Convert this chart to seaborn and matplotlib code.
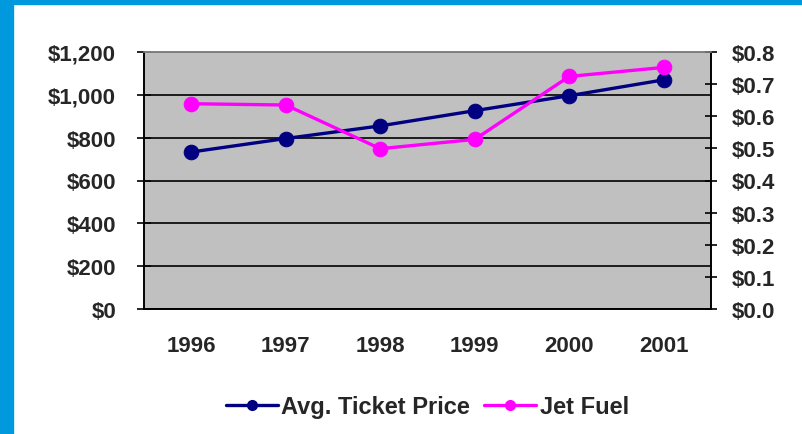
import matplotlib
matplotlib.use('Agg')
import matplotlib.pyplot as plt
import seaborn as sns
import pandas as pd
from matplotlib.lines import Line2D
from matplotlib.patches import Rectangle

# chart data
years = ['1996', '1997', '1998', '1999', '2000', '2001']
ticket_price = [733, 796, 855, 926, 996, 1070]
jet_fuel = [0.639, 0.635, 0.499, 0.528, 0.724, 0.752]
left_ticks = [0, 200, 400, 600, 800, 1000, 1200]
right_ticks = [0.0, 0.1, 0.2, 0.3, 0.4, 0.5, 0.6, 0.7, 0.8]

df = pd.DataFrame({'x': range(len(years)), 'ticket': ticket_price, 'fuel': jet_fuel})

sns.set_style('white')
plt.rcParams['font.family'] = ['Liberation Sans', 'DejaVu Sans']
plt.rcParams['font.weight'] = 'bold'

navy = '#000080'
magenta = '#FF00FF'
fs = 16

fig = plt.figure(figsize=(8.03, 4.35), dpi=100)
fig.patch.set_facecolor('white')
# blue frame on the left and top
fig.add_artist(Rectangle((0, 0), 13 / 803, 1, transform=fig.transFigure, color='#0099DD', zorder=0))
fig.add_artist(Rectangle((0, 1 - 5 / 435), 1, 5 / 435, transform=fig.transFigure, color='#0099DD', zorder=0))

ax = fig.add_axes([144 / 803, 1 - 310 / 435, (711 - 144) / 803, (310 - 53) / 435])
ax.set_facecolor('#C0C0C0')
ax2 = ax.twinx()

sns.lineplot(data=df, x='x', y='ticket', ax=ax, color=navy, lw=2.4, marker='o',
             markersize=10.5, markeredgecolor=navy, zorder=3)
sns.lineplot(data=df, x='x', y='fuel', ax=ax2, color=magenta, lw=2.4, marker='o',
             markersize=10.5, markeredgecolor=magenta, zorder=3)

ax.set_xlim(-0.5, len(years) - 0.5)
ax.set_ylim(0, 1200)
ax2.set_ylim(0, 0.8)
ax.set_yticks(left_ticks)
ax.set_yticklabels(['${:,}'.format(v) for v in left_ticks])
ax2.set_yticks(right_ticks)
ax2.set_yticklabels(['${:.1f}'.format(v) for v in right_ticks])

# category boundaries as ticks, labels at centers
ax.set_xticks([i - 0.5 for i in range(len(years) + 1)])
ax.set_xticklabels([])
ax.set_xticks(range(len(years)), minor=True)
ax.set_xticklabels(years, minor=True)
ax.tick_params(axis='x', which='minor', length=0, pad=19)
ax.tick_params(axis='x', which='major', direction='out', length=6, width=1.2, color='black')
ax.tick_params(axis='y', direction='inout', length=10, width=1.2, color='black', pad=15)
ax2.tick_params(axis='y', direction='inout', length=8, width=1.2, color='black', pad=11)

for a in (ax, ax2):
    a.set_xlabel('')
    a.set_ylabel('')
    for lab in a.get_yticklabels() + a.get_xticklabels(minor=True):
        lab.set_fontsize(fs)
        lab.set_fontweight('bold')

ax.grid(axis='y', color='black', lw=1.2)
ax.grid(axis='x', visible=False)
ax2.grid(False)
ax.set_axisbelow(True)

for a in (ax, ax2):
    a.spines['top'].set_color('#808080')
    a.spines['left'].set_color('black')
    a.spines['right'].set_color('black')
    a.spines['bottom'].set_color('black')
    for s in a.spines.values():
        s.set_linewidth(1.2)

handles = [
    Line2D([0], [0], color=navy, lw=2.4, marker='o', markersize=7),
    Line2D([0], [0], color=magenta, lw=2.4, marker='o', markersize=7),
]
fig.legend(handles, ['Avg. Ticket Price', 'Jet Fuel'], loc='center',
           bbox_to_anchor=((144 + 711) / 2 / 803, 1 - 408 / 435), ncol=2, frameon=False,
           prop={'size': 17, 'weight': 'bold'}, handlelength=2.2, handletextpad=0.15,
           columnspacing=0.6)

fig.savefig('out.png', dpi=100, facecolor='white')
